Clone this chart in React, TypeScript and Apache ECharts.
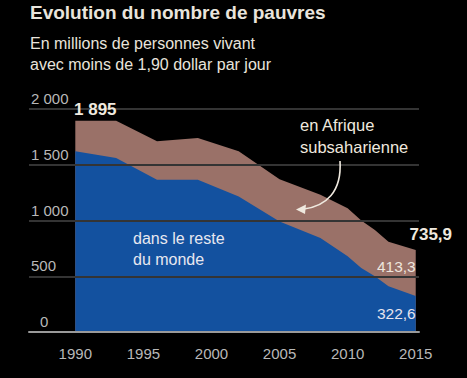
import React, { useEffect, useRef } from "react";
import * as echarts from "echarts";

const years = [1990, 1993, 1996, 1999, 2002, 2005, 2008, 2010, 2011, 2012, 2013, 2015];
const restOfWorld = [1620, 1560, 1366, 1366, 1216, 992, 843, 680, 575, 500, 410, 322.6];
const subSaharanAfrica = [275, 335, 344, 374, 404, 378, 387, 430, 425, 415, 400, 413.3];
const xTickLabels = [1990, 1995, 2000, 2005, 2010, 2015];

const FONT = "'Liberation Sans', Arial, Helvetica, sans-serif";

function fmt(v: number): string {
  const r = Math.round(v * 10) / 10;
  const parts = r.toString().split(".");
  const intPart = parts[0].replace(/\B(?=(\d{3})+(?!\d))/g, " ");
  return parts.length > 1 ? intPart + "," + parts[1] : intPart;
}

const hiddenSymbol = {
  symbol: "circle",
  symbolSize: 0.01,
  showSymbol: true,
  itemStyle: { color: "rgba(0,0,0,0)", borderWidth: 0 },
};

export default function App() {
  const ref = useRef<HTMLDivElement>(null);
  useEffect(() => {
    if (!ref.current) return;
    const chart = echarts.init(ref.current, null, { renderer: "svg" });
    const totals = restOfWorld.map((v, i) => Math.round((v + subSaharanAfrica[i]) * 10) / 10);
    const last = years.length - 1;
    const restData = years.map((y, i) => {
      const item: any = { value: [y, restOfWorld[i]] };
      if (i === last) {
        item.label = {
          show: true,
          position: "bottom",
          align: "right",
          offset: [0, 4],
          formatter: fmt(restOfWorld[i]),
          color: "#e6e4ee",
          fontSize: 15.5,
          fontFamily: FONT,
        };
      }
      return item;
    });
    const afrData = years.map((y, i) => {
      const item: any = { value: [y, totals[i]] };
      if (i === last) {
        item.label = {
          show: true,
          position: "bottom",
          align: "right",
          offset: [0, 4],
          formatter: fmt(subSaharanAfrica[i]),
          color: "#eee6de",
          fontSize: 15.5,
          fontFamily: FONT,
        };
      }
      return item;
    });
    const totalData = years.map((y, i) => {
      const item: any = { value: [y, totals[i]] };
      if (i === 0 || i === last) {
        item.label = {
          show: true,
          position: "top",
          offset: i === 0 ? [20, 2] : [15, -2],
          formatter: fmt(totals[i]),
          color: "#efe9df",
          fontSize: 17,
          fontWeight: "bold",
          fontFamily: FONT,
        };
      }
      return item;
    });

    chart.setOption({
      animation: false,
      backgroundColor: "#000000",
      textStyle: { fontFamily: FONT },
      grid: { left: 29, right: 48, top: 109, bottom: 46, containLabel: false },
      xAxis: {
        type: "value",
        min: 1986.6,
        max: 2015.24,
        z: 5,
        axisLine: { show: true, lineStyle: { color: "#9a9a9a", width: 2 } },
        axisTick: { show: false },
        splitLine: { show: false },
        axisLabel: {
          customValues: xTickLabels,
          color: "#b8b8b8",
          fontSize: 15,
          margin: 14,
          fontFamily: FONT,
          formatter: (v: number) => String(v),
        },
      },
      yAxis: {
        type: "value",
        min: 0,
        max: 2000,
        interval: 500,
        z: 4,
        axisLine: { show: false },
        axisTick: { show: false },
        splitLine: { show: true, lineStyle: { color: "#343434", width: 2 } },
        axisLabel: {
          inside: true,
          margin: 2,
          align: "left",
          verticalAlign: "bottom",
          padding: [0, 0, 3, 0],
          color: "#b8b8b8",
          fontSize: 15,
          fontFamily: FONT,
          formatter: (v: number) => (v === 0 ? "{z|0}" : fmt(v)),
          rich: {
            z: { padding: [0, 0, 0, 9], color: "#b8b8b8", fontSize: 15, fontFamily: FONT },
          },
        },
      },
      series: [
        {
          name: "en Afrique subsaharienne",
          type: "line",
          data: afrData,
          ...hiddenSymbol,
          lineStyle: { width: 0 },
          areaStyle: { color: "#9a7168", opacity: 1 },
          z: 1,
        },
        {
          name: "dans le reste du monde",
          type: "line",
          data: restData,
          ...hiddenSymbol,
          lineStyle: { width: 0 },
          areaStyle: { color: "#13519f", opacity: 1 },
          z: 2,
        },
        {
          name: "total",
          type: "line",
          data: totalData,
          ...hiddenSymbol,
          lineStyle: { width: 0, opacity: 0 },
          z: 6,
        },
      ],
      graphic: [
        {
          type: "text",
          left: 30,
          top: 3,
          style: {
            text: "Evolution du nombre de pauvres",
            fill: "#e9e4dc",
            font: `bold 19px ${FONT}`,
          },
        },
        {
          type: "text",
          left: 30,
          top: 35,
          style: {
            text: "En millions de personnes vivant",
            fill: "#e9e4dc",
            font: `16px ${FONT}`,
          },
        },
        {
          type: "text",
          left: 30,
          top: 56,
          style: {
            text: "avec moins de 1,90 dollar par jour",
            fill: "#e9e4dc",
            font: `16px ${FONT}`,
          },
        },
        {
          type: "text",
          x: 133,
          y: 238,
          z: 10,
          style: {
            text: "dans le reste",
            fill: "#e8e8f0",
            font: `16px ${FONT}`,
            textVerticalAlign: "middle",
          },
        },
        {
          type: "text",
          x: 133,
          y: 259,
          z: 10,
          style: {
            text: "du monde",
            fill: "#e8e8f0",
            font: `16px ${FONT}`,
            textVerticalAlign: "middle",
          },
        },
        {
          type: "text",
          x: 300,
          y: 125,
          z: 10,
          style: {
            text: "en Afrique",
            fill: "#efe9df",
            font: `16.5px ${FONT}`,
            textVerticalAlign: "middle",
          },
        },
        {
          type: "text",
          x: 300,
          y: 146.5,
          z: 10,
          style: {
            text: "subsaharienne",
            fill: "#efe9df",
            font: `16.5px ${FONT}`,
            textVerticalAlign: "middle",
          },
        },
        {
          type: "bezierCurve",
          z: 10,
          shape: { x1: 340, y1: 161, cpx1: 342, cpy1: 192, cpx2: 326, cpy2: 206, x2: 304, y2: 209 },
          style: { stroke: "#efe9df", lineWidth: 1.6, fill: null },
        },
        {
          type: "polygon",
          z: 10,
          shape: { points: [[296, 209.5], [306, 204.5], [305, 214]] },
          style: { fill: "#efe9df" },
        },
      ],
    });
    return () => chart.dispose();
  }, []);
  return (
    <div
      ref={ref}
      style={{ position: "fixed", left: 0, top: 0, width: 467, height: 378 }}
    />
  );
}
